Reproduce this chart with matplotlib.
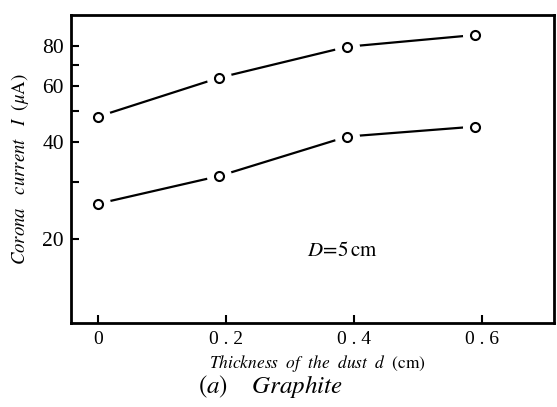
import numpy as np
import matplotlib
matplotlib.use('Agg')
import matplotlib.pyplot as plt
from matplotlib.ticker import FixedLocator, NullFormatter, NullLocator

''' Data '''
thickness = [0.0, 0.19, 0.39, 0.59]
current_upper = [48.1, 63.7, 79.6, 86.6]
current_lower = [25.7, 31.4, 41.7, 44.8]
x_ticks = [0.0, 0.2, 0.4, 0.6]
x_labels = ['0', '0 . 2', '0 . 4', '0 . 6']
y_ticks = [20, 40, 60, 80]
y_minor = [30, 50, 70]

plt.rcParams['font.family'] = ['Liberation Serif', 'DejaVu Serif']
plt.rcParams['mathtext.fontset'] = 'stix'

fig = plt.figure(figsize=(5.57, 4.07), dpi=100)
ax = fig.add_axes([71 / 557, 1 - 323 / 407, (554 - 71) / 557, (323 - 15) / 407])

for ys in (current_upper, current_lower):
    ax.plot(thickness, ys, color='black', lw=1.6, zorder=2)
    # white halo leaves the small gap between line and marker
    ax.plot(thickness, ys, ls='none', marker='o', ms=17, mfc='white', mec='white', zorder=3)
    ax.plot(thickness, ys, ls='none', marker='o', ms=6.5, mfc='white', mec='black', mew=1.5, zorder=4)

ax.set_yscale('log')
ax.set_xlim(-0.042, 0.713)
ax.set_ylim(10.9, 100)

ax.yaxis.set_major_locator(FixedLocator(y_ticks))
ax.yaxis.set_minor_locator(FixedLocator(y_minor))
ax.yaxis.set_minor_formatter(NullFormatter())
ax.set_yticklabels([str(v) for v in y_ticks])
ax.set_xticks(x_ticks)
ax.set_xticklabels(x_labels)
ax.xaxis.set_minor_locator(NullLocator())

ax.tick_params(axis='y', which='both', direction='in', length=6, width=1.5, labelsize=15.5, pad=5)
ax.tick_params(axis='x', direction='in', length=6, width=1.5, labelsize=14, pad=6)
for s in ax.spines.values():
    s.set_linewidth(2)

ax.set_ylabel(r'$\it{Corona\ \ \ current\ \ \ I}\ \ (\mu\mathrm{A})$', fontsize=13.5, labelpad=8)
fig.text(317 / 557, 1 - 363 / 407, r'$\it{Thickness\ \ of\ \ the\ \ dust\ \ d}\ \ \mathrm{(cm)}$',
         ha='center', va='center', fontsize=12.5)
fig.text(270 / 557, 1 - 386 / 407, r'$(a)\ \ \ \ Graphite$', ha='center', va='center', fontsize=18)
fig.text(307 / 557, 1 - 252 / 407, r'$D\!=\!5\,\mathrm{cm}$', ha='left', va='center', fontsize=15)

fig.savefig('out.png', dpi=100)
